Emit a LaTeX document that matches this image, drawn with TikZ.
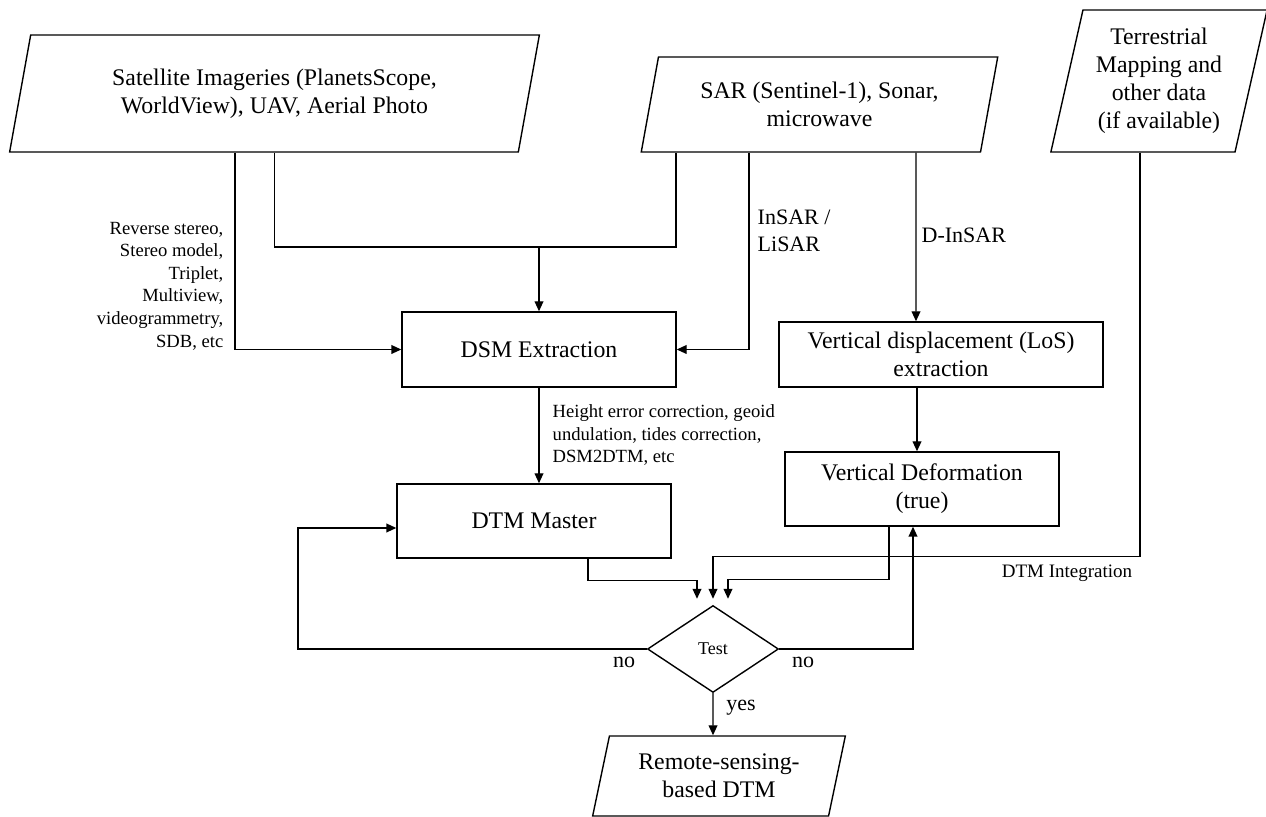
\documentclass[tikz,border=0pt]{standalone}
\usepackage{fontspec}
\setmainfont{Liberation Serif}
\usetikzlibrary{shapes.geometric,arrows.meta}

\begin{document}
\begin{tikzpicture}[x=0.5pt,y=-0.5pt,line width=0.7pt,
  data/.style={draw,trapezium,trapezium left angle=76,trapezium right angle=104,trapezium stretches=true,align=center,inner sep=2pt,font=\fontsize{11.9}{14}\selectfont},
  proc/.style={draw,rectangle,align=center,minimum width=137pt,font=\fontsize{11.9}{14}\selectfont},
  note/.style={font=\fontsize{9.3}{11.3}\selectfont,inner sep=1pt},
  lbl/.style={font=\fontsize{11}{13.5}\selectfont,inner sep=1pt},
  arr/.style={-{Triangle[length=5pt,width=4.4pt]}}]
  \useasboundingbox (0,0) rectangle (1266,817);
  \node[data,minimum width=265.5pt,minimum height=58.5pt] (sat) at (274.5,93.5) {Satellite Imageries (PlanetsScope,\\WorldView), UAV, Aerial Photo};
  \node[data,minimum width=178.5pt,minimum height=47.5pt] (sar) at (819.5,104.5) {SAR (Sentinel-1), Sonar,\\microwave};
  \node[data,minimum width=109pt,minimum height=71pt] (ter) at (1159,81) {Terrestrial\\Mapping and\\other data\\(if available)};
  \node[proc,minimum height=37.5pt] (dsm) at (539,349.5) {DSM Extraction};
  \node[proc,minimum width=162pt,minimum height=32.5pt] (vd) at (941,354.5) {Vertical displacement (LoS)\\extraction};
  \node[proc,minimum height=37pt] (vdef) at (922,489) {Vertical Deformation\\(true)};
  \node[proc,minimum height=37pt] (dtm) at (534,521) {DTM Master};
  \node[draw,diamond,minimum width=65.5pt,minimum height=43.5pt,inner sep=0pt,font=\fontsize{9}{10}\selectfont] (test) at (713,649) {Test};
  \node[data,minimum width=127pt,minimum height=40pt] (out) at (719,776) {Remote-sensing-\\based DTM};

  \node[note,anchor=east,align=right] (stereo) at (226,286) {Reverse stereo,\\Stereo model,\\Triplet,\\Multiview,\\videogrammetry,\\SDB, etc};
  \node[note,anchor=west,align=left] (corr) at (550,435) {Height error correction, geoid\\undulation, tides correction,\\DSM2DTM, etc};
  \node[lbl,anchor=west,align=left] (insar) at (755,231) {InSAR /\\LiSAR};
  \node[lbl,anchor=west] (dinsar) at (919,235) {D-InSAR};
  \node[font=\fontsize{9.5}{11}\selectfont] (integ) at (1067,573) {DTM Integration};
  \node[lbl] (noL) at (624,662) {no};
  \node[lbl] (noR) at (803,662) {no};
  \node[lbl] (yes) at (741,708) {yes};

  \coordinate (join) at (539,247);
  \coordinate (inL) at ([xshift=-8pt,yshift=3pt]test.north);
  \coordinate (inM) at ([yshift=3pt]test.north);
  \coordinate (inR) at ([xshift=7.5pt,yshift=3pt]test.north);

  \draw[arr] ([xshift=-19.75pt]sat.south) |- (dsm.west);
  \draw (sat.south) |- (join) -| ([xshift=-71.75pt]sar.south);
  \draw[arr] (join) -- (dsm.north);
  \draw[arr] ([xshift=-35.25pt]sar.south) |- (dsm.east);
  \draw[arr] ([xshift=48.25pt]sar.south) -- ([xshift=-12.5pt]vd.north);
  \draw[arr] ([xshift=-12pt]vd.south) -- ([xshift=-2.5pt]vdef.north);
  \draw[arr] (dsm.south) -- ([xshift=2.5pt]dtm.north);
  \draw[arr] ([xshift=27pt]dtm.south) |- ([yshift=9pt]inL) -- (inL);
  \draw[arr] ([xshift=-9.5pt]ter.south) |- ([yshift=21pt]inM) -- (inM);
  \draw[arr] ([xshift=-16.5pt]vdef.south) |- ([yshift=9.5pt]inR) -- (inR);
  \draw[arr] (test.west) -- ++(-349,0) |- ([yshift=-3.5pt]dtm.west);
  \draw[arr] (test.east) -| ([xshift=-4.5pt]vdef.south);
  \draw[arr] (test.south) -- ([xshift=-3pt]out.north);
\end{tikzpicture}
\end{document}
